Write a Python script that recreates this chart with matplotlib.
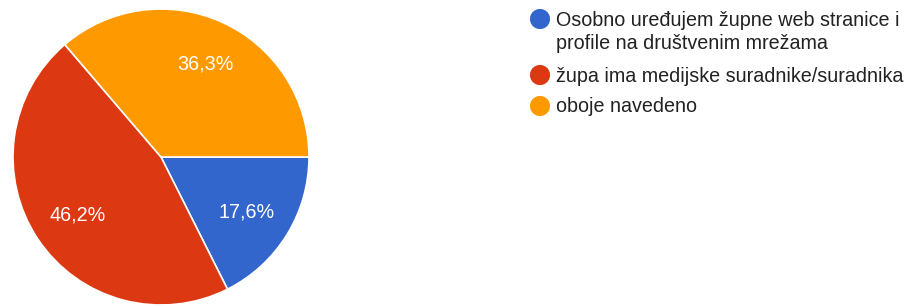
import matplotlib
matplotlib.use("Agg")
import matplotlib.pyplot as plt

labels = ["Osobno uređujem župne web stranice i\nprofile na društvenim mrežama",
          "župa ima medijske suradnike/suradnika",
          "oboje navedeno"]
values = [17.6, 46.2, 36.3]
colors = ["#3366CC", "#DC3912", "#FF9900"]
label_dist = [0.68, 0.68, 0.71]

W, H = 906, 307
fig = plt.figure(figsize=(W / 100, H / 100), dpi=100)
plt.rcParams['font.family'] = ['Liberation Sans', 'DejaVu Sans']

cx, cy, r = 161, 157, 148
ax = fig.add_axes([(cx - r) / W, (H - cy - r) / H, 2 * r / W, 2 * r / H])
wedges, texts, autotexts = ax.pie(
    values, colors=colors, startangle=0, counterclock=False,
    autopct=lambda p: f"{p:.1f}%".replace(".", ","), pctdistance=1.0,
    wedgeprops=dict(edgecolor="white", linewidth=1.2),
    textprops=dict(color="white", fontsize=14.2))
for t, d in zip(autotexts, label_dist):
    x, y = t.get_position()
    t.set_position((x * d, y * d - 0.015))
ax.set_xlim(-1, 1)
ax.set_ylim(-1, 1)
ax.set_aspect("auto")

lax = fig.add_axes([0, 0, 1, 1])
lax.set_xlim(0, W)
lax.set_ylim(H, 0)
lax.axis("off")
ys = [19, 75, 106]
lax.scatter([540] * 3, ys, s=210, c=colors, edgecolors="none")
for lab, y in zip(labels, ys):
    lax.text(556, y - 8.5, lab, fontsize=14.2, color="#222222", va="top",
             ha="left", linespacing=1.27)

fig.savefig("out.png", dpi=100)
